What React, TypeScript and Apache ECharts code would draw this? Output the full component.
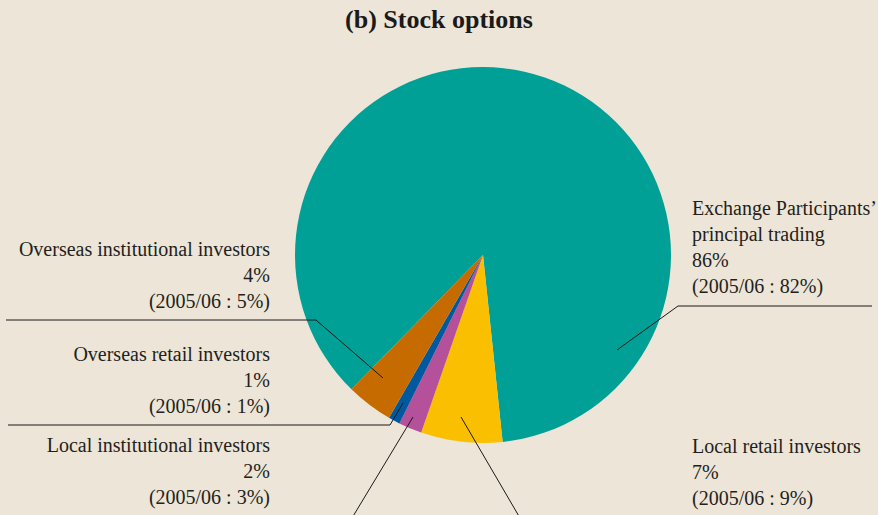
import React, { useEffect, useRef } from "react";
import * as echarts from "echarts";

const categories = [
  "Exchange Participants’\nprincipal trading",
  "Local retail investors",
  "Local institutional investors",
  "Overseas retail investors",
  "Overseas institutional investors",
];
const shares = [86, 7, 2, 1, 4];
const prevShares = [82, 9, 3, 1, 5];
const colors = ["#00A097", "#FAC000", "#B5509A", "#00589E", "#C66B00"];

// label layout: text anchor, alignment, leader line points
const labelLayouts = [
  { x: 692, y: 195, align: "left", pts: [[617, 350], [678, 306], [872, 306]] },
  { x: 692, y: 433, align: "left", pts: [[461, 417], [520, 518]] },
  { x: 270, y: 432, align: "right", pts: [[413, 417], [352, 518]] },
  { x: 270, y: 341, align: "right", pts: [[403, 403], [390, 425], [8, 425]] },
  { x: 270, y: 236, align: "right", pts: [[383, 378], [316, 320], [6, 320]] },
];

const FONT = "'Liberation Serif', 'DejaVu Serif', serif";

export default function App() {
  const ref = useRef<HTMLDivElement>(null);
  useEffect(() => {
    document.body.style.margin = "0";
    document.body.style.background = "#EDE5D7";
    const chart = echarts.init(ref.current!, null, { renderer: "svg" });
    chart.setOption({
      animation: false,
      backgroundColor: "#EDE5D7",
      title: {
        text: "(b) Stock options",
        left: "center",
        top: 1,
        textStyle: { fontFamily: FONT, fontSize: 26, fontWeight: "bold", color: "#1a1a1a" },
      },
      graphic: labelLayouts.map((l) => ({
        type: "polyline",
        z: 100,
        silent: true,
        shape: { points: l.pts },
        style: { stroke: "#1a1a1a", lineWidth: 1, fill: "none" },
      })),
      series: [
        {
          type: "pie",
          center: [483, 255],
          radius: 188,
          startAngle: 225.6,
          clockwise: true,
          avoidLabelOverlap: false,
          itemStyle: { borderWidth: 0 },
          data: categories.map((name, i) => ({
            name,
            value: shares[i],
            itemStyle: { color: colors[i] },
          })),
          label: {
            show: true,
            position: "outer",
            formatter: (p: any) =>
              `${p.name}\n${shares[p.dataIndex]}%\n(2005/06 : ${prevShares[p.dataIndex]}%)`,
            fontFamily: FONT,
            fontSize: 20,
            lineHeight: 26,
            color: "#231F20",
          },
          labelLine: { show: false },
          labelLayout: (params: any) => {
            const l = labelLayouts[params.dataIndex];
            return {
              x: l.x,
              y: l.y,
              align: l.align,
              verticalAlign: "top",
            };
          },
        },
      ],
    });
    return () => chart.dispose();
  }, []);
  return (
    <div
      ref={ref}
      style={{ position: "fixed", left: 0, top: 0, width: 878, height: 515 }}
    />
  );
}
